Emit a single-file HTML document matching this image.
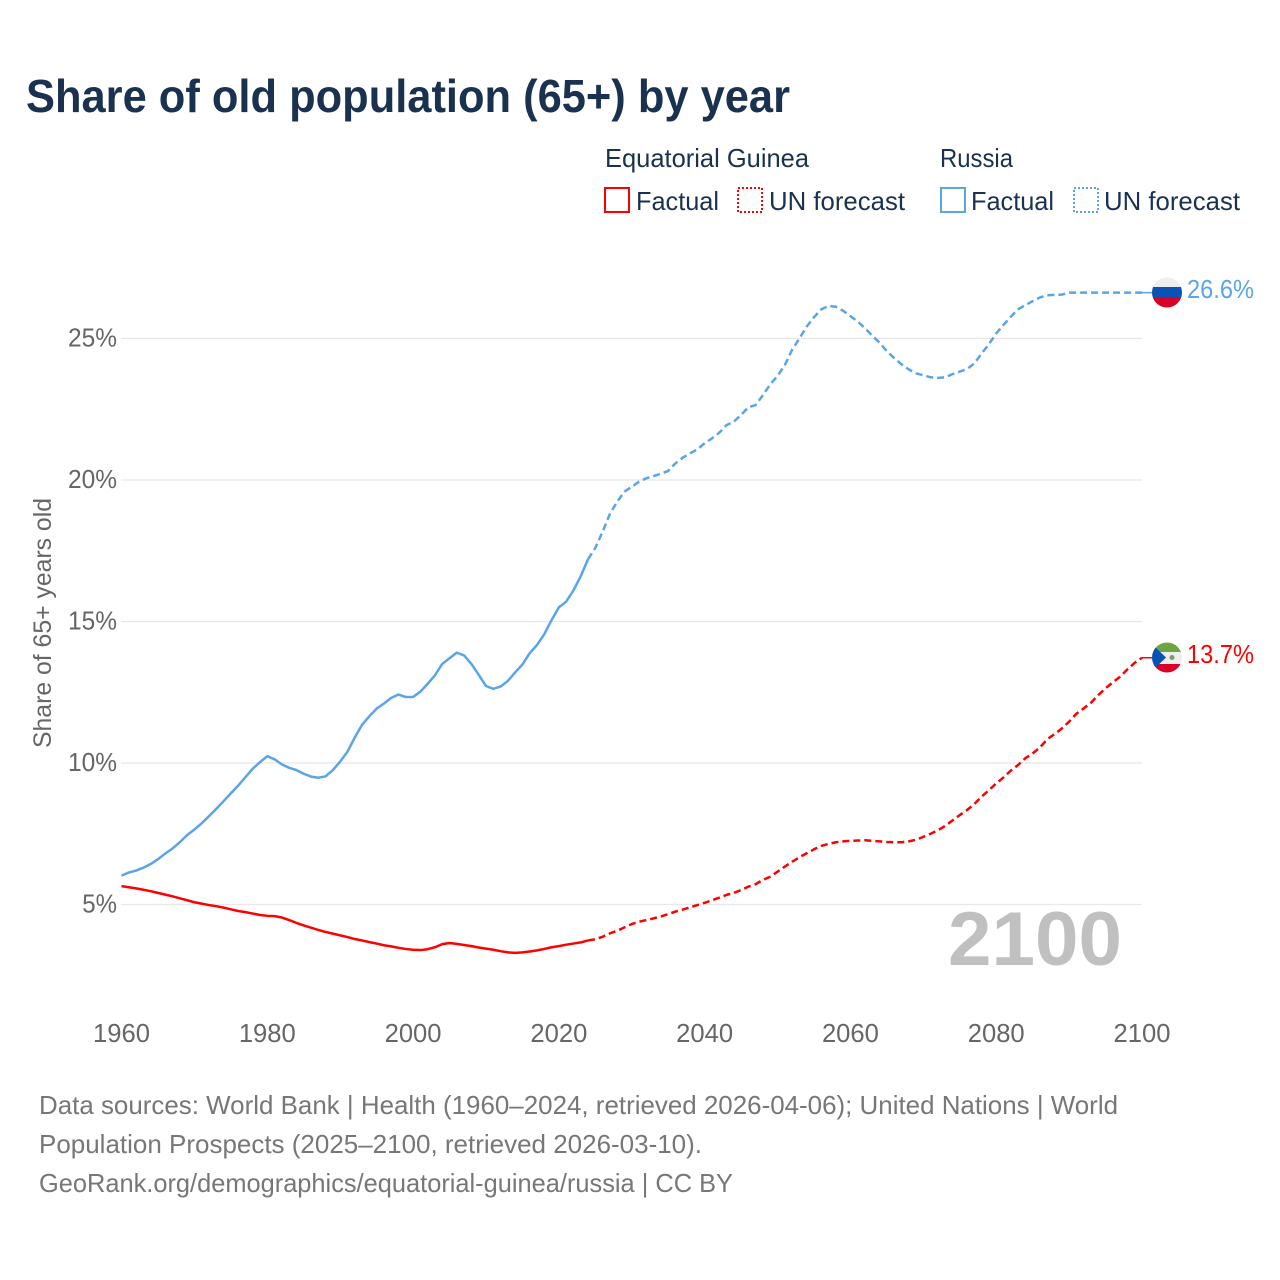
<!DOCTYPE html>
<html>
<head>
<meta charset="utf-8">
<style>
html,body{margin:0;padding:0;background:#fff;width:1280px;height:1280px;overflow:hidden}
svg{display:block;font-family:"Liberation Sans",sans-serif}
</style>
</head>
<body>
<svg id="chart" xmlns="http://www.w3.org/2000/svg" width="1280" height="1280" viewBox="0 0 1280 1280">
  <rect x="0" y="0" width="1280" height="1280" fill="#fff"/>
  <text x="26" y="112" font-size="46" font-weight="700" fill="#1a3250" textLength="764" lengthAdjust="spacingAndGlyphs">Share of old population (65+) by year</text>

  <g font-size="26" fill="#1a3250">
    <text x="605" y="167" textLength="204" lengthAdjust="spacingAndGlyphs">Equatorial Guinea</text>
    <text x="940" y="167" textLength="73" lengthAdjust="spacingAndGlyphs">Russia</text>
    <rect x="605" y="188" width="24" height="24" fill="none" stroke="#ff0000" stroke-width="2"/>
    <text x="636" y="210" textLength="83" lengthAdjust="spacingAndGlyphs">Factual</text>
    <rect x="738" y="188" width="24" height="24" fill="none" stroke="#ff0000" stroke-width="2" stroke-dasharray="2 2"/>
    <text x="769" y="210" textLength="136" lengthAdjust="spacingAndGlyphs">UN forecast</text>
    <rect x="941" y="188" width="24" height="24" fill="none" stroke="#5ba4ea" stroke-width="2"/>
    <text x="971" y="210" textLength="83" lengthAdjust="spacingAndGlyphs">Factual</text>
    <rect x="1074" y="188" width="24" height="24" fill="none" stroke="#5ba4ea" stroke-width="2" stroke-dasharray="2 2"/>
    <text x="1104" y="210" textLength="136" lengthAdjust="spacingAndGlyphs">UN forecast</text>
  </g>

  <g id="grid"></g>
  <g id="yTicks" font-size="25.6" fill="#666"></g>
  <g id="xTicks" font-size="25.6" fill="#666"></g>
  <text transform="translate(51,623) rotate(-90)" text-anchor="middle" font-size="25" fill="#666" textLength="250" lengthAdjust="spacingAndGlyphs">Share of 65+ years old</text>

  <text x="948" y="965" font-size="76" font-weight="700" fill="#c0c0c0" textLength="174" lengthAdjust="spacingAndGlyphs">2100</text>

  <g id="series"></g>

  <defs>
    <clipPath id="flagRu"><circle cx="1167" cy="292.5" r="15"/></clipPath>
    <clipPath id="flagGq"><circle cx="1167" cy="657.5" r="15"/></clipPath>
  </defs>
  <g clip-path="url(#flagRu)">
    <rect x="1152" y="277" width="30" height="10" fill="#eeeeee"/>
    <rect x="1152" y="287" width="30" height="10.5" fill="#0a52b4"/>
    <rect x="1152" y="297.5" width="30" height="11" fill="#d80027"/>
  </g>
  <g clip-path="url(#flagGq)">
    <rect x="1152" y="642" width="30" height="10" fill="#6da544"/>
    <rect x="1152" y="652" width="30" height="12" fill="#eeeeee"/>
    <rect x="1152" y="664" width="30" height="10" fill="#d80027"/>
    <polygon points="1150,642 1166,657.5 1150,673" fill="#0a52b4"/>
    <circle cx="1172" cy="657.5" r="2.5" fill="#7d9a6a"/>
  </g>
  <text x="1187" y="298" font-size="25.6" fill="#5ba4ea" textLength="67" lengthAdjust="spacingAndGlyphs">26.6%</text>
  <text x="1187" y="663" font-size="25.6" fill="#ff0000" textLength="67" lengthAdjust="spacingAndGlyphs">13.7%</text>

  <g font-size="26" fill="#777">
    <text x="39" y="1114" textLength="1079" lengthAdjust="spacingAndGlyphs">Data sources: World Bank | Health (1960–2024, retrieved 2026-04-06); United Nations | World</text>
    <text x="39" y="1153" textLength="663" lengthAdjust="spacingAndGlyphs">Population Prospects (2025–2100, retrieved 2026-03-10).</text>
    <text x="39" y="1192" textLength="694" lengthAdjust="spacingAndGlyphs">GeoRank.org/demographics/equatorial-guinea/russia | CC BY</text>
  </g>
</svg>
<script>
const xTickYears = [1960, 1980, 2000, 2020, 2040, 2060, 2080, 2100];
const yTickValues = [5, 10, 15, 20, 25];
const startYear = 1960;
const lastFactualYear = 2024;
const russia = [
  6.02, 6.13, 6.2, 6.3, 6.43, 6.6, 6.8, 6.98, 7.2, 7.45,
  7.65, 7.87, 8.12, 8.38, 8.65, 8.93, 9.2, 9.5, 9.8, 10.03,
  10.24, 10.13, 9.95, 9.83, 9.75, 9.62, 9.52, 9.48, 9.53, 9.75,
  10.05, 10.4, 10.9, 11.35, 11.65, 11.92, 12.1, 12.3, 12.42, 12.33,
  12.33, 12.52, 12.8, 13.1, 13.5, 13.7, 13.9, 13.8, 13.5, 13.12,
  12.72, 12.62, 12.7, 12.9, 13.2, 13.48, 13.88, 14.17, 14.55, 15.05,
  15.5, 15.7, 16.1, 16.6, 17.2, 17.6, 18.17, 18.8, 19.23, 19.59,
  19.76, 19.94, 20.06, 20.14, 20.22, 20.32, 20.59, 20.79, 20.94, 21.08,
  21.3, 21.47, 21.67, 21.94, 22.06, 22.3, 22.57, 22.65, 23.0, 23.38,
  23.68, 24.06, 24.6, 25.0, 25.42, 25.75, 26.03, 26.15, 26.12, 25.98,
  25.79, 25.6, 25.36, 25.1, 24.85, 24.55, 24.31, 24.09, 23.91, 23.77,
  23.7, 23.63, 23.61, 23.63, 23.74, 23.83, 23.92, 24.12, 24.47, 24.8,
  25.18, 25.48, 25.77, 26.03, 26.18, 26.32, 26.45, 26.53, 26.54, 26.55,
  26.62, 26.62, 26.62, 26.62, 26.62, 26.62, 26.62, 26.62, 26.62, 26.62,
  26.62
];
const guinea = [
  5.65, 5.61, 5.57, 5.52, 5.47, 5.41, 5.35, 5.29, 5.22, 5.15,
  5.08, 5.03, 4.98, 4.94, 4.89, 4.83, 4.77, 4.73, 4.68, 4.63,
  4.6, 4.59, 4.54, 4.45, 4.35, 4.26, 4.18, 4.1, 4.03, 3.97,
  3.91, 3.85, 3.78, 3.73, 3.67, 3.62, 3.56, 3.52, 3.47, 3.43,
  3.4, 3.39, 3.42, 3.49, 3.6, 3.64, 3.61, 3.57, 3.53, 3.48,
  3.44, 3.4, 3.35, 3.31, 3.29, 3.31, 3.34, 3.38, 3.43, 3.49,
  3.53, 3.58, 3.62, 3.66, 3.73, 3.77, 3.86, 3.98, 4.07, 4.19,
  4.31, 4.39, 4.45, 4.51, 4.58, 4.66, 4.75, 4.82, 4.9, 4.98,
  5.06, 5.15, 5.24, 5.34, 5.41, 5.51, 5.63, 5.72, 5.87, 5.98,
  6.16, 6.34, 6.51, 6.67, 6.81, 6.95, 7.07, 7.14, 7.2, 7.23,
  7.25, 7.26, 7.27, 7.25, 7.23, 7.21, 7.2, 7.2, 7.23, 7.29,
  7.39, 7.5, 7.62, 7.78, 7.97, 8.16, 8.34, 8.55, 8.81, 9.04,
  9.28, 9.49, 9.73, 9.93, 10.17, 10.34, 10.55, 10.84, 11.02, 11.22,
  11.46, 11.74, 11.93, 12.13, 12.4, 12.64, 12.85, 13.05, 13.31, 13.54,
  13.72
];

const xScale = function (year) { return 121.5 + (year - 1960) * (1142 - 121.5) / 140; };
const yScale = function (value) { return 904.5 - (value - 5) * 28.3; };
const NS = 'http://www.w3.org/2000/svg';

const grid = document.getElementById('grid');
const yTicks = document.getElementById('yTicks');
yTickValues.forEach(function (v) {
  const line = document.createElementNS(NS, 'line');
  
  
  line.setAttribute('x1', 121);
  line.setAttribute('x2', 1142);
  line.setAttribute('y1', yScale(v));
  line.setAttribute('y2', yScale(v));
  line.setAttribute('stroke', '#e8e8e8');
  line.setAttribute('stroke-width', 1.3);
  grid.appendChild(line);
  const t = document.createElementNS(NS, 'text');
  
  
  t.setAttribute('x', 117);
  t.setAttribute('y', yScale(v) + 8);
  t.setAttribute('text-anchor', 'end');
  t.setAttribute('textLength', String(v).length * 14.25 + 20.5);
  t.setAttribute('lengthAdjust', 'spacingAndGlyphs');
  t.textContent = v + '%';
  yTicks.appendChild(t);
});

const xTicks = document.getElementById('xTicks');
xTickYears.forEach(function (y) {
  const t = document.createElementNS(NS, 'text');
  
  
  t.setAttribute('x', xScale(y));
  t.setAttribute('y', 1042);
  t.setAttribute('text-anchor', 'middle');
  t.textContent = y;
  xTicks.appendChild(t);
});

function linePath(values, fromYear, toYear) {
  let d = '';
  for (let yr = fromYear; yr <= toYear; yr++) {
    d += (d ? 'L' : 'M') + xScale(yr).toFixed(2) + ' ' + yScale(values[yr - startYear]).toFixed(2);
  }
  return d;
}

const seriesGroup = document.getElementById('series');
function addLine(d, color, dash, width, name) {
  const p = document.createElementNS(NS, 'path');
  
  
  p.setAttribute('d', d);
  p.setAttribute('fill', 'none');
  p.setAttribute('stroke', color);
  p.setAttribute('stroke-width', width);
  p.setAttribute('stroke-linejoin', 'round');
  if (dash) p.setAttribute('stroke-dasharray', dash);
  seriesGroup.appendChild(p);
}
const lastYear = startYear + russia.length - 1;
function connector(values) {
  const yEnd = yScale(values[values.length - 1]).toFixed(2);
  return 'M' + xScale(lastYear).toFixed(2) + ' ' + yEnd + 'L1153 ' + yEnd;
}
addLine(linePath(russia, startYear, lastFactualYear), '#5ba4ea', null, 2.5, 'russia-factual-line');
addLine(linePath(russia, lastFactualYear, lastYear), '#5ba4ea', '7 4', 2.5, 'russia-forecast-line');
addLine(connector(russia), '#5ba4ea', null, 1.5, 'russia-end-connector');
addLine(linePath(guinea, startYear, lastFactualYear), '#ff0000', null, 2.5, 'guinea-factual-line');
addLine(linePath(guinea, lastFactualYear, lastYear), '#ff0000', '7 4', 2.5, 'guinea-forecast-line');
addLine(connector(guinea), '#ff0000', null, 1.5, 'guinea-end-connector');
</script>
</body>
</html>
